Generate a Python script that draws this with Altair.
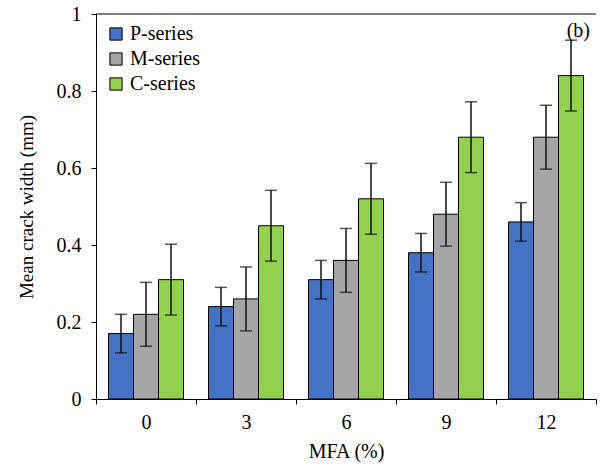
import altair as alt
import pandas as pd

mfa = ["0", "3", "6", "9", "12"]
series = ["P-series", "M-series", "C-series"]
colors = ["#4472C4", "#A5A5A5", "#92D050"]
p_vals = [0.17, 0.24, 0.31, 0.38, 0.46]
m_vals = [0.22, 0.26, 0.36, 0.48, 0.68]
c_vals = [0.31, 0.45, 0.52, 0.68, 0.84]
p_err = [0.05, 0.05, 0.05, 0.05, 0.05]
m_err = [0.083, 0.083, 0.083, 0.083, 0.083]
c_err = [0.092, 0.092, 0.092, 0.092, 0.092]

rows = []
for s, vals, errs in zip(series, [p_vals, m_vals, c_vals], [p_err, m_err, c_err]):
    for k, v, e in zip(mfa, vals, errs):
        rows.append({"MFA": k, "series": s, "value": v, "lo": v - e, "hi": v + e})
df = pd.DataFrame(rows)

FONT = "Liberation Serif"

x = alt.X("MFA:N", sort=mfa, title="MFA (%)",
          scale=alt.Scale(paddingInner=0, paddingOuter=0),
          axis=alt.Axis(labelAngle=0, tickBand="extent", tickSize=5, labelPadding=8,
                        titlePadding=9, domainColor="#000", tickColor="#000"))
xo = alt.XOffset("series:N", sort=series,
                 scale=alt.Scale(paddingOuter=0.5, paddingInner=0))
yscale = alt.Scale(domain=[0, 1], nice=False)

base = alt.Chart(df)

bars = base.mark_bar(stroke="#000", strokeWidth=1).encode(
    x=x, xOffset=xo,
    y=alt.Y("value:Q", scale=yscale, title="Mean crack width (mm)",
            axis=alt.Axis(values=[0, 0.2, 0.4, 0.6, 0.8, 1], tickSize=5, labelPadding=10,
                          titlePadding=20, grid=False, domainColor="#000", tickColor="#000",
                          titleFontSize=19,
                          labelExpr="datum.value == 0 ? '0' : datum.value == 1 ? '1' : format(datum.value, '.1f')")),
    color=alt.Color("series:N", sort=series,
                    scale=alt.Scale(domain=series, range=colors),
                    legend=alt.Legend(title=None, orient="none", legendX=10, legendY=10,
                                      symbolType="square", symbolSize=150,
                                      symbolStrokeColor="#000", symbolStrokeWidth=1,
                                      labelFontSize=20, labelFont=FONT, rowPadding=5,
                                      symbolOpacity=1, labelColor="#000")),
)

rules = base.mark_rule(color="#111", strokeWidth=1.5).encode(
    x=x, xOffset=xo, y=alt.Y("lo:Q", scale=yscale), y2="hi:Q")
caps_hi = base.mark_tick(color="#111", thickness=1.5, size=12, orient="horizontal").encode(
    x=x, xOffset=xo, y=alt.Y("hi:Q", scale=yscale))
caps_lo = base.mark_tick(color="#111", thickness=1.5, size=12, orient="horizontal").encode(
    x=x, xOffset=xo, y=alt.Y("lo:Q", scale=yscale))

top = alt.Chart(pd.DataFrame({"t": [1]})).mark_rule(color="#000", strokeWidth=1).encode(
    y=alt.Y("t:Q", scale=yscale))

label_b = alt.Chart(pd.DataFrame({"t": ["(b)"]})).mark_text(
    font=FONT, fontSize=20, color="#000", align="right", baseline="top").encode(
    x=alt.value(494), y=alt.value(7), text="t:N")

chart = alt.layer(bars, rules, caps_hi, caps_lo, top, label_b).properties(
    width=500, height=385,
    background="white",
    autosize=alt.AutoSizeParams(type="none"),
    padding={"left": 96, "top": 14, "right": 4, "bottom": 69},
).configure_view(stroke=None).configure_axis(
    labelFont=FONT, titleFont=FONT, labelFontSize=20, titleFontSize=20,
    labelColor="#000", titleColor="#000", titleFontWeight="normal",
)

chart.save("out.html", embed_options={"renderer": "svg", "actions": False})
